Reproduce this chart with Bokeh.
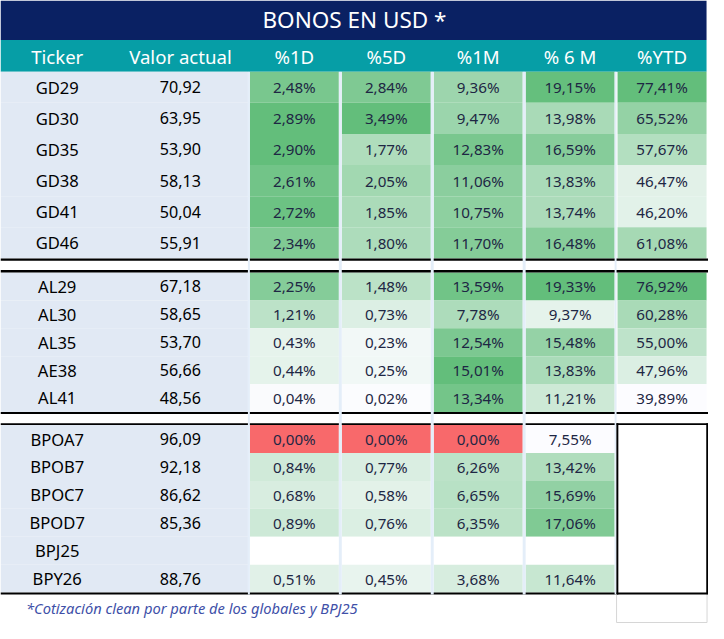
import math
from bokeh.plotting import figure
from bokeh.models import Range1d, ColumnDataSource, LinearColorMapper
from bokeh.embed import file_html
from bokeh.resources import INLINE
from bokeh.core.properties import value

# ---------------- data ----------------
title = "BONOS EN USD *"
headers = ["Ticker", "Valor actual", "%1D", "%5D", "%1M", "% 6 M", "%YTD"]
tickers = ["GD29", "GD30", "GD35", "GD38", "GD41", "GD46",
           "AL29", "AL30", "AL35", "AE38", "AL41",
           "BPOA7", "BPOB7", "BPOC7", "BPOD7", "BPJ25", "BPY26"]
sections = [0, 0, 0, 0, 0, 0, 1, 1, 1, 1, 1, 2, 2, 2, 2, 2, 2]
valor = [70.92, 63.95, 53.90, 58.13, 50.04, 55.91,
         67.18, 58.65, 53.70, 56.66, 48.56,
         96.09, 92.18, 86.62, 85.36, None, 88.76]
pct_1d = [2.48, 2.89, 2.90, 2.61, 2.72, 2.34,
          2.25, 1.21, 0.43, 0.44, 0.04,
          0.00, 0.84, 0.68, 0.89, None, 0.51]
pct_5d = [2.84, 3.49, 1.77, 2.05, 1.85, 1.80,
          1.48, 0.73, 0.23, 0.25, 0.02,
          0.00, 0.77, 0.58, 0.76, None, 0.45]
pct_1m = [9.36, 9.47, 12.83, 11.06, 10.75, 11.70,
          13.59, 7.78, 12.54, 15.01, 13.34,
          0.00, 6.26, 6.65, 6.35, None, 3.68]
pct_6m = [19.15, 13.98, 16.59, 13.83, 13.74, 16.48,
          19.33, 9.37, 15.48, 13.83, 11.21,
          7.55, 13.42, 15.69, 17.06, None, 11.64]
pct_ytd = [77.41, 65.52, 57.67, 46.47, 46.20, 61.08,
           76.92, 60.28, 55.00, 47.96, 39.89,
           None, None, None, None, None, None]
footnote = "*Cotización clean por parte de los globales y BPJ25"

# ---------------- layout / style ----------------
W, H = 724, 639
PW, PH = 708, 623
S = PW / W
FONT = "Noto Sans"
NAVY = "#0A2163"
TEAL = "#069EA6"
LEFT_BG = "#E1E9F4"
SEP = "#E4EEF9"
RED = "#F8696B"
TXT_PCT = "#1E2744"

def fs(px):
    return value(f"{px * S:.1f}px")

p = figure(width=PW, height=PH, x_range=Range1d(0, W), y_range=Range1d(H, 0),
           x_axis_type=None, y_axis_type=None, output_backend="svg",
           toolbar_location=None, min_border=0)
p.grid.visible = False
p.outline_line_color = None
p.background_fill_color = "white"
p.border_fill_color = "white"

# title + header bands
p.quad(left=[0], right=[722], top=[0], bottom=[40.5], fill_color=NAVY, line_color=None)
p.quad(left=[0], right=[722], top=[40.5], bottom=[73], fill_color=TEAL, line_color=None)
p.text(x=[362], y=[19], text=[title], text_align="center", text_baseline="middle",
       text_color="white", text_font=value(FONT), text_font_size=fs(23))

col_centers = [58, 184, 300.5, 394.5, 488.5, 582.5, 676.5]
p.text(x=col_centers, y=[57.5] * 7, text=headers, text_align="center",
       text_baseline="middle", text_color="white", text_font=value(FONT),
       text_font_size=fs(19))

# row geometry
sec_top = [73, 279, 435.5]
sec_h = [(264.5 - 73) / 6, (422 - 279) / 5, (607.3 - 435.5) / 6]
tops, bots, ycs = [], [], []
counter = {0: 0, 1: 0, 2: 0}
for s in sections:
    k = counter[s]
    counter[s] += 1
    t = sec_top[s] + k * sec_h[s]
    tops.append(t)
    bots.append(t + sec_h[s])
    ycs.append(t + sec_h[s] / 2)

n = len(tickers)
# left block
p.quad(left=[0] * n, right=[253] * n, top=tops, bottom=bots,
       fill_color=LEFT_BG, line_color=None)
p.text(x=[58] * n, y=ycs, text=tickers, text_align="center", text_baseline="middle",
       text_color="black", text_font=value(FONT), text_font_size=fs(17))
valor_lbl = ["" if v is None else f"{v:.2f}".replace(".", ",") for v in valor]
p.text(x=[184] * n, y=ycs, text=valor_lbl, text_align="center", text_baseline="middle",
       text_color="black", text_font=value(FONT), text_font_size=fs(16.5))

# colour-scaled percentage columns
def interp(c1, c2, t):
    return "#%02x%02x%02x" % tuple(round(a + (b - a) * t) for a, b in zip(c1, c2))

palette = [interp((252, 252, 255), (99, 190, 123), i / 255) for i in range(256)]

pct_cols = [pct_1d, pct_5d, pct_1m, pct_6m, pct_ytd]
col_left = [255, 349, 443, 537, 631]
col_w = 91
for j, col in enumerate(pct_cols):
    vals = [float("nan") if v is None else v for v in col]
    good = [v for v in col if v is not None]
    lo, hi = min(good), max(good)
    if lo == 0:
        lo = 1e-9
    mapper = LinearColorMapper(palette=palette, low=lo, high=hi,
                               low_color=RED, nan_color="white")
    lbl = ["" if v is None else f"{v:.2f}".replace(".", ",") + "%" for v in col]
    src = ColumnDataSource(dict(l=[col_left[j]] * n, r=[col_left[j] + col_w] * n,
                                t=tops, b=bots, v=vals, y=ycs,
                                x=[col_left[j] + col_w / 2] * n, lbl=lbl))
    p.quad(left="l", right="r", top="t", bottom="b", source=src,
           fill_color={"field": "v", "transform": mapper}, line_color=None)
    p.text(x="x", y="y", text="lbl", source=src, text_align="center",
           text_baseline="middle", text_color=TXT_PCT, text_font=value(FONT),
           text_font_size=fs(15.5))

# black section rules
rules = [(264.5, 267), (276.5, 279), (422, 424), (433.5, 435.5), (607.3, 609.3)]
p.quad(left=[0] * len(rules), right=[723.5] * len(rules),
       top=[r[0] for r in rules], bottom=[r[1] for r in rules],
       fill_color="black", line_color=None)

# light column separators
seps = [(253, 255), (346, 349), (440, 443), (534, 537), (628, 630)]
p.quad(left=[s_[0] for s_ in seps], right=[s_[1] for s_ in seps],
       top=[73] * len(seps), bottom=[609.3] * len(seps),
       fill_color=SEP, line_color=None)

# box around the empty YTD block of the last section
p.quad(left=[629.8, 721.7], right=[631.8, 723.5], top=[433.5, 433.5],
       bottom=[609.3, 609.3], fill_color="black", line_color=None)

# faint footnote box edge
p.segment(x0=[630, 630, 722.5], y0=[609.3, 638, 609.3], x1=[630, 722.5, 722.5],
          y1=[638, 638, 638], line_color="#D6D6D6", line_width=1)

# footnote
p.text(x=[26], y=[623.5], text=[footnote], text_align="left", text_baseline="middle",
       text_color="#4050A8", text_font=value(FONT), text_font_style="italic",
       text_font_size=fs(15))

open("out.html", "w").write(file_html(p, INLINE))
